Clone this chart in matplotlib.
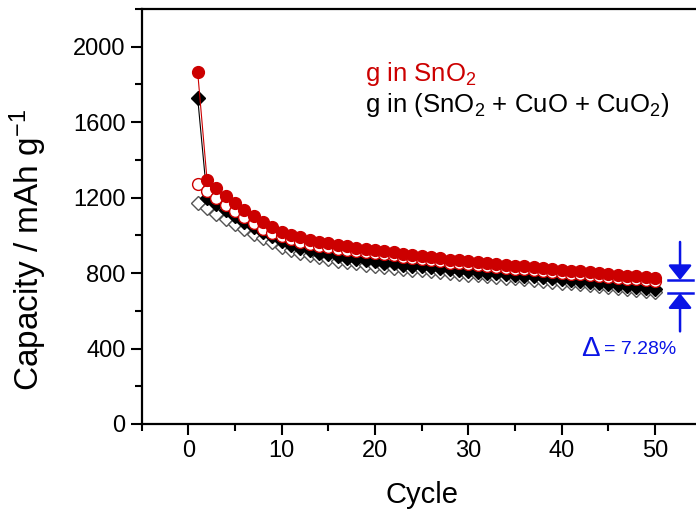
import numpy as np
import matplotlib
matplotlib.use('Agg')
import matplotlib.pyplot as plt
from matplotlib.ticker import MultipleLocator

plt.rcParams['font.family'] = ['Liberation Sans', 'DejaVu Sans']
plt.rcParams['mathtext.fontset'] = 'custom'
plt.rcParams['mathtext.rm'] = 'Liberation Sans'
plt.rcParams['mathtext.it'] = 'Liberation Sans:italic'

# cycle number
cycle = np.arange(1, 51)

# g in SnO2 : discharge (filled) / charge (open)
sno2_dis = [1865, 1296, 1252, 1211, 1172, 1135, 1100, 1070, 1043, 1020,
            1004, 990, 978, 967, 957, 949, 941, 934, 928, 922,
            916, 910, 903, 896, 890, 884, 878, 872, 867, 863,
            858, 854, 849, 845, 840, 836, 831, 827, 822, 818,
            813, 809, 805, 800, 796, 791, 787, 782, 777, 772]
sno2_chg = [1271, 1236, 1197, 1163, 1128, 1095, 1063, 1035, 1011, 994,
            980, 967, 956, 946, 937, 930, 923, 917, 911, 906,
            900, 894, 887, 880, 874, 868, 862, 856, 851, 847,
            842, 838, 833, 829, 824, 820, 815, 811, 806, 802,
            797, 793, 789, 784, 780, 775, 771, 766, 761, 756]

# g in (SnO2 + CuO + CuO2) : discharge (filled) / charge (open)
mix_dis = [1728, 1200, 1165, 1132, 1100, 1070, 1043, 1018, 996, 968,
           949, 933, 920, 909, 899, 890, 882, 875, 868, 862,
           856, 851, 845, 840, 835, 830, 825, 820, 816, 812,
           807, 803, 799, 795, 791, 786, 782, 777, 773, 768,
           764, 759, 754, 749, 744, 738, 733, 728, 722, 716]
mix_chg = [1172, 1145, 1115, 1086, 1058, 1032, 1008, 986, 963, 940,
           922, 907, 895, 884, 874, 866, 858, 851, 845, 839,
           834, 829, 824, 819, 814, 809, 805, 800, 796, 792,
           788, 784, 780, 776, 772, 768, 763, 759, 754, 750,
           746, 741, 736, 731, 726, 720, 715, 710, 704, 699]

red = '#cc0000'
blue = '#0a14e6'

fig = plt.figure(figsize=(6.96, 5.17), dpi=100)
ax = fig.add_axes([0.2036, 0.1799, 0.8043, 0.8027])

ax.plot(cycle, mix_chg, '-', color='#555555', lw=0.8, marker='D', ms=7,
        mfc='white', mec='#555555', mew=1.0, zorder=2)
ax.plot(cycle, mix_dis, '-', color='black', lw=0.8, marker='D', ms=7,
        mfc='black', mec='black', zorder=3)
ax.plot(cycle, sno2_chg, '-', color=red, lw=0.8, marker='o', ms=8.5,
        mfc='white', mec=red, mew=1.0, zorder=4)
ax.plot(cycle, sno2_dis, '-', color=red, lw=0.8, marker='o', ms=8.5,
        mfc=red, mec=red, zorder=5)

ax.set_xlim(-5, 55)
ax.set_ylim(0, 2200)
ax.xaxis.set_major_locator(MultipleLocator(10))
ax.xaxis.set_minor_locator(MultipleLocator(5))
ax.yaxis.set_major_locator(MultipleLocator(400))
ax.yaxis.set_minor_locator(MultipleLocator(200))
ax.tick_params(which='major', direction='out', length=8, width=1.5, labelsize=17)
ax.tick_params(which='minor', direction='out', length=5, width=1.5)
for s in ax.spines.values():
    s.set_linewidth(1.6)

ax.set_xlabel('Cycle', fontsize=21, labelpad=14)
ax.set_ylabel(r'Capacity / mAh g$^{\mathregular{-1}}$', fontsize=24)
ax.yaxis.set_label_coords(-0.165, 0.42)

ax.text(18.9, 1819, r'g in SnO$_{\mathregular{2}}$', color=red, fontsize=18.5)
ax.text(18.9, 1655, r'g in (SnO$_{\mathregular{2}}$ + CuO + CuO$_{\mathregular{2}}$)',
        color='black', fontsize=18.5)

# retention difference marker
xa = 52.7
top_lvl = sno2_dis[-1] - 9
bot_lvl = mix_dis[-1] - 23
arrow = dict(arrowstyle='-|>,head_width=0.6,head_length=0.75',
             color=blue, lw=1.8, mutation_scale=12, shrinkA=0, shrinkB=0)
ax.annotate('', xy=(xa, top_lvl), xytext=(xa, 965), arrowprops=arrow)
ax.annotate('', xy=(xa, bot_lvl), xytext=(xa, 491), arrowprops=arrow)
ax.plot([51.4, 54.1], [top_lvl, top_lvl], color=blue, lw=1.8, clip_on=False)
ax.plot([51.4, 54.1], [bot_lvl, bot_lvl], color=blue, lw=1.8, clip_on=False)
ax.text(42.1, 400, '\u0394', color=blue, fontsize=20, va='center')
ax.text(44.5, 395, '= 7.28%', color=blue, fontsize=14, va='center')

fig.savefig('out.png', dpi=100)
